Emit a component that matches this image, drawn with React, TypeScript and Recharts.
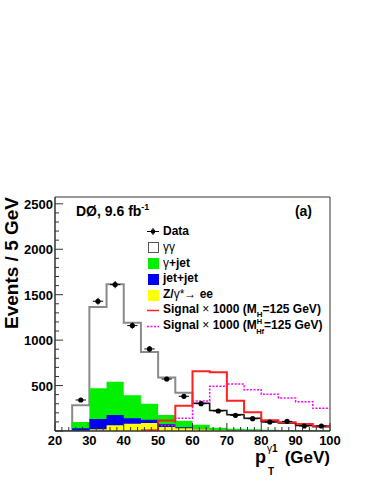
import React from 'react';
import { ComposedChart, Area, Line, Scatter, ErrorBar, XAxis, YAxis, ReferenceArea } from 'recharts';

// bin low edges (GeV), 5 GeV bins
const binEdges = [20, 25, 30, 35, 40, 45, 50, 55, 60, 65, 70, 75, 80, 85, 90, 95];

// stacked levels (top of each fill)
const ggLevel = [0, 283, 1365, 1615, 1190, 870, 590, 420, 305, 225, 180, 140, 100, 88, 60, 48];
const gjetLevel = [0, 99, 470, 543, 393, 301, 176, 113, 69, 35, 25, 20, 15, 12, 10, 8];
const jjLevel = [0, 30, 132, 176, 140, 125, 75, 40, 22, 12, 8, 6, 5, 4, 4, 4];
const zeeLevel = [0, 2, 20, 62, 80, 88, 44, 30, 18, 10, 6, 4, 3, 3, 3, 3];

// signal x 1000
const sigH = [null, null, null, null, null, 5, 115, 279, 657, 646, 334, 205, 117, 95, 77, 55];
const sigHf = [null, null, null, null, null, 8, 60, 140, 330, 492, 517, 455, 404, 363, 323, 250];

// data points at bin centres
const dataX = [27.5, 32.5, 37.5, 42.5, 47.5, 52.5, 57.5, 62.5, 67.5, 72.5, 77.5, 82.5, 87.5, 92.5, 97.5];
const dataY = [341, 1428, 1611, 1160, 903, 572, 382, 301, 220, 172, 136, 99, 106, 55, 55];
const dataErr = [18, 38, 40, 34, 30, 24, 20, 17, 15, 13, 12, 10, 10, 7, 7];

const xTicks = Array.from({ length: 41 }, (_, i) => 20 + i * 2);
const yTicks = Array.from({ length: 26 }, (_, i) => i * 100);

const FONT = '"Liberation Sans", Arial, Helvetica, sans-serif';

// histogram table: one row per bin edge, last edge repeats the last bin
const histData = [...binEdges, 100].map((x, i) => {
  const k = Math.min(i, binEdges.length - 1);
  return {
    x,
    gg: ggLevel[k],
    gjet: gjetLevel[k],
    jj: jjLevel[k],
    zee: zeeLevel[k],
    ggTail: x >= 60 ? ggLevel[k] : null,
    sigH: sigH[k],
    sigHf: sigHf[k],
  };
});

const points = dataX.map((x, i) => ({ x, y: dataY[i], ey: dataErr[i], ex: 1.5 }));

const XTick = (props: any) => {
  const { x, y, payload } = props;
  const major = payload.value % 10 === 0;
  return (
    <g>
      <line x1={x} x2={x} y1={y} y2={y - (major ? 8 : 4)} stroke="#333" />
      {major && (
        <text x={x} y={y + 14} textAnchor="middle" fontSize={13} fontWeight="bold" fontFamily={FONT} fill="#000">
          {payload.value}
        </text>
      )}
    </g>
  );
};

const YTick = (props: any) => {
  const { x, y, payload } = props;
  const major = payload.value % 500 === 0;
  return (
    <g>
      <line x1={x} x2={x + (major ? 8 : 4)} y1={y} y2={y} stroke="#333" />
      {major && payload.value > 0 && (
        <text x={x - 2} y={y + 5} textAnchor="end" fontSize={13} fontWeight="bold" fontFamily={FONT} fill="#000">
          {payload.value}
        </text>
      )}
    </g>
  );
};

const box = (fill: string, stroke?: string) => (
  <div style={{ width: 11, height: 11, background: fill, border: stroke ? `1px solid ${stroke}` : 'none', boxSizing: 'border-box' }} />
);

const LegendBox = () => {
  const rows: { mark: React.ReactNode; label: React.ReactNode }[] = [
    {
      mark: (
        <svg width={12} height={11}>
          <line x1={0} x2={12} y1={5.5} y2={5.5} stroke="#000" />
          <line x1={6} x2={6} y1={2} y2={9} stroke="#000" />
          <circle cx={6} cy={5.5} r={2.3} fill="#000" />
        </svg>
      ),
      label: 'Data',
    },
    { mark: box('#fff', '#555'), label: <span style={{ fontWeight: 'normal' }}>γγ</span> },
    { mark: box('#00f000'), label: <><span style={{ fontWeight: 'normal' }}>γ</span>+jet</> },
    { mark: box('#0000f0'), label: 'jet+jet' },
    { mark: box('#ffff00'), label: <>Z/<span style={{ fontWeight: 'normal' }}>γ*→</span> ee</> },
    {
      mark: (
        <svg width={12} height={11}>
          <line x1={0} x2={12} y1={5.5} y2={5.5} stroke="#ff2020" strokeWidth={1.5} />
        </svg>
      ),
      label: (
        <>
          Signal <span style={{ fontWeight: 'normal' }}>×</span> 1000 (M
          <span style={{ fontSize: 8, position: 'relative', top: 4 }}>H</span>=125 GeV)
        </>
      ),
    },
    {
      mark: (
        <svg width={12} height={11}>
          <line x1={0} x2={12} y1={5.5} y2={5.5} stroke="#ff00ff" strokeWidth={1.5} strokeDasharray="2 1.5" />
        </svg>
      ),
      label: (
        <>
          Signal <span style={{ fontWeight: 'normal' }}>×</span> 1000 (M
          <span style={{ fontSize: 7.5, position: 'relative', top: -5 }}>H</span>
          <span style={{ fontSize: 7.5, position: 'relative', top: 5, marginLeft: -6 }}>Hf</span>
          =125 GeV)
        </>
      ),
    },
  ];
  return (
    <div style={{ fontFamily: FONT, fontWeight: 'bold', fontSize: 12, color: '#000', lineHeight: '15.8px' }}>
      {rows.map((r, i) => (
        <div key={i} style={{ display: 'flex', alignItems: 'center', height: 15.8, whiteSpace: 'nowrap' }}>
          <div style={{ width: 12, display: 'flex', justifyContent: 'center' }}>{r.mark}</div>
          <div style={{ marginLeft: 4 }}>{r.label}</div>
        </div>
      ))}
    </div>
  );
};

export default function App() {
  return (
    <div style={{ position: 'absolute', left: 0, top: 0, width: 374, height: 484, background: '#fff' }}>
      <ComposedChart
        width={374}
        height={484}
        data={histData}
        margin={{ top: 197, right: 44, bottom: 0, left: 0 }}
      >
        <XAxis
          dataKey="x"
          type="number"
          domain={[20, 100]}
          ticks={xTicks}
          interval={0}
          allowDataOverflow
          height={53}
          tickSize={0}
          tickMargin={0}
          tickLine={false}
          axisLine={{ stroke: '#333' }}
          tick={<XTick />}
        />
        <YAxis
          type="number"
          domain={[0, 2575]}
          ticks={yTicks}
          interval={0}
          allowDataOverflow
          width={55}
          tickSize={0}
          tickMargin={0}
          tickLine={false}
          axisLine={{ stroke: '#333' }}
          tick={<YTick />}
        />
        <Area type="stepAfter" dataKey="gg" stroke="#8a8a8a" strokeWidth={2} fill="#fff" fillOpacity={1} dot={false} activeDot={false} isAnimationActive={false} />
        <Area type="stepAfter" dataKey="gjet" stroke="none" fill="#00f000" fillOpacity={1} dot={false} activeDot={false} isAnimationActive={false} />
        <Area type="stepAfter" dataKey="jj" stroke="none" fill="#0000f0" fillOpacity={1} dot={false} activeDot={false} isAnimationActive={false} />
        <Area type="stepAfter" dataKey="zee" stroke="none" fill="#ffff00" fillOpacity={1} dot={false} activeDot={false} isAnimationActive={false} />
        <Line type="stepAfter" dataKey="ggTail" stroke="#000" strokeWidth={1} dot={false} activeDot={false} isAnimationActive={false} />
        <Line type="stepAfter" dataKey="sigHf" stroke="#ff00ff" strokeWidth={1.5} strokeDasharray="2 1.5" dot={false} activeDot={false} isAnimationActive={false} />
        <Line type="stepAfter" dataKey="sigH" stroke="#ff2020" strokeWidth={2} dot={false} activeDot={false} isAnimationActive={false} />
        <Scatter
          data={points}
          dataKey="y"
          fill="#000"
          isAnimationActive={false}
          shape={(p: any) => <circle cx={p.cx} cy={p.cy} r={2.6} fill="#000" />}
        >
          <ErrorBar dataKey="ey" direction="y" width={0} stroke="#000" strokeWidth={1} />
          <ErrorBar dataKey="ex" direction="x" width={0} stroke="#000" strokeWidth={1} />
        </Scatter>
        <ReferenceArea x1={20} x2={100} y1={0} y2={2575} fill="none" stroke="#333" strokeWidth={1} ifOverflow="visible" />
      </ComposedChart>
      <div style={{ position: 'absolute', left: 147, top: 224 }}>
        <LegendBox />
      </div>
      <svg
        width={374}
        height={484}
        style={{ position: 'absolute', left: 0, top: 0, pointerEvents: 'none' }}
        fontFamily={FONT}
        fontWeight="bold"
      >
        <text transform="translate(18,197) rotate(-90)" textAnchor="end" fontSize={19} fill="#000">
          Events / 5 GeV
        </text>
        <text x={76} y={216} fontSize={14} fill="#000">
          DØ, 9.6 fb<tspan fontSize={9} dy={-6}>-1</tspan>
        </text>
        <text x={312} y={216} textAnchor="end" fontSize={14} fill="#000">(a)</text>
        <text x={255} y={463} fontSize={18} fill="#000">p</text>
        <text x={267} y={452} fontSize={10} fill="#000">
          <tspan fontWeight="normal">γ</tspan>1
        </text>
        <text x={268} y={475} fontSize={10} fill="#000">T</text>
        <text x={330} y={463} textAnchor="end" fontSize={17} fill="#000">(GeV)</text>
      </svg>
    </div>
  );
}
